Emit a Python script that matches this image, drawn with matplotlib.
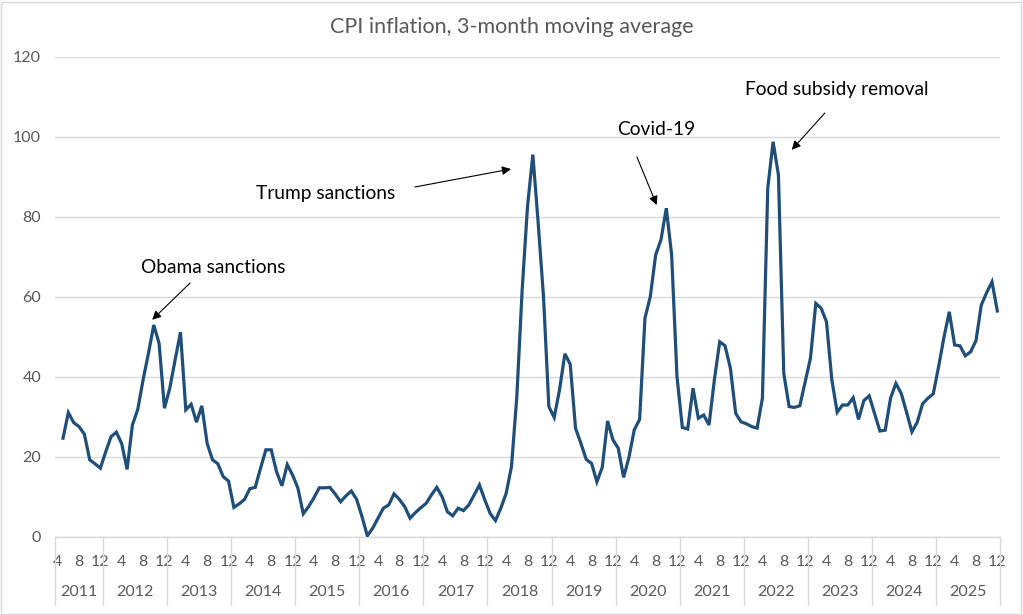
import matplotlib
matplotlib.use("Agg")
import matplotlib.pyplot as plt
from matplotlib.lines import Line2D
from matplotlib.patches import Rectangle
import matplotlib.transforms as mtransforms

plt.rcParams['font.family'] = ['Lato', 'DejaVu Sans']

# ---- data: monthly, starting April 2011 (first value missing) ----
start_year = 2011
start_month = 4
values = [
    None, 24.7, 31.1, 28.6, 27.6, 25.7, 19.3, 18.3, 17.2,            # 2011 Apr-Dec
    21.3, 25.1, 26.2, 23.3, 16.9, 28.0, 31.9, 39.3, 45.9, 53.0, 48.4, 32.2,   # 2012
    37.2, 44.3, 51.2, 31.8, 33.2, 28.7, 32.8, 23.4, 19.3, 18.3, 15.1, 14.0,   # 2013
    7.4, 8.3, 9.4, 12.1, 12.4, 17.2, 21.8, 21.8, 16.3, 12.8, 18.1, 15.5,      # 2014
    12.2, 5.8, 7.6, 9.8, 12.3, 12.3, 12.4, 10.7, 8.8, 10.3, 11.5, 9.4,        # 2015
    5.1, 0.3, 2.2, 4.7, 7.2, 8.0, 10.8, 9.4, 7.6, 4.7, 6.1, 7.3,              # 2016
    8.4, 10.5, 12.4, 10.1, 6.3, 5.3, 7.2, 6.6, 8.0, 10.5, 13.0, 9.3,          # 2017
    5.9, 4.1, 7.2, 10.9, 17.6, 35.1, 61.8, 82.6, 95.6, 78.5, 60.0, 32.6,      # 2018
    29.9, 36.8, 45.8, 43.2, 27.2, 23.4, 19.4, 18.4, 13.8, 17.4, 29.0, 24.3,   # 2019
    22.2, 14.9, 19.9, 26.8, 29.4, 54.7, 60.1, 70.5, 74.3, 82.2, 70.5, 40.1,   # 2020
    27.4, 27.0, 37.2, 29.7, 30.5, 28.0, 39.3, 48.8, 47.8, 42.2, 30.9, 28.8,   # 2021
    28.3, 27.6, 27.2, 34.7, 87.2, 98.8, 90.5, 40.9, 32.6, 32.4, 32.8, 38.8,   # 2022
    44.7, 58.4, 57.2, 53.8, 39.3, 31.2, 33.0, 33.0, 34.8, 29.4, 34.1, 35.3,   # 2023
    30.9, 26.5, 26.7, 34.7, 38.4, 35.9, 31.2, 26.3, 28.7, 33.3, 34.7, 35.8,   # 2024
    42.6, 49.9, 56.3, 48.0, 47.8, 45.3, 46.3, 49.1, 58.0, 61.1, 63.8, 56.5,   # 2025
]
years = list(range(2011, 2026))
month_labels_shown = [4, 8, 12]
y_ticks = [0, 20, 40, 60, 80, 100, 120]
title = "CPI inflation, 3-month moving average"
annotations = [
    # text, text pos (idx, value), arrow start, arrow tip
    ("Obama sanctions", (29.1, 67.3), (24.8, 63.5), (17.7, 54.3)),
    ("Trump sanctions", (50.1, 85.8), (66.9, 87.5), (84.9, 92.0)),
    ("Covid-19", (112.2, 101.8), (108.5, 95.0), (112.2, 83.0)),
    ("Food subsidy removal", (145.9, 111.8), (143.7, 106.0), (137.5, 96.8)),
]

# ---- derived month index ----
n = len(values)
months = [((start_month - 1 + i) % 12) + 1 for i in range(n)]
yrs = [start_year + (start_month - 1 + i) // 12 for i in range(n)]
xs = [i for i, v in enumerate(values) if v is not None]
ys = [v for v in values if v is not None]

W, H = 1023, 615
fig = plt.figure(figsize=(W / 100, H / 100), dpi=100)
fig.patches.append(Rectangle((1 / W, 1 / H), 1 - 3 / W, 1 - 3 / H, transform=fig.transFigure,
                             fill=False, edgecolor='#d9d9d9', lw=1))

left, right, top, bottom = 55, 1000, 57, 537
ax = fig.add_axes([left / W, 1 - bottom / H, (right - left) / W, (bottom - top) / H])

grid_c = '#d9d9d9'
text_c = '#595959'

ax.plot(xs, ys, color='#1F4E79', lw=2.3, solid_joinstyle='miter', zorder=3)

ax.set_xlim(-0.5, n - 0.5)
ax.set_ylim(0, 120)
ax.set_yticks(y_ticks)
ax.yaxis.grid(True, color=grid_c, lw=1)
ax.set_axisbelow(True)
for s in ['top', 'right', 'left']:
    ax.spines[s].set_visible(False)
ax.spines['bottom'].set_color(grid_c)
ax.spines['bottom'].set_linewidth(1)
ax.tick_params(axis='y', length=0, labelsize=11.5, labelcolor=text_c, pad=10)

tick_idx = [i for i in range(n) if months[i] in month_labels_shown]
ax.set_xticks(tick_idx)
ax.set_xticklabels([str(months[i]) for i in tick_idx])
ax.tick_params(axis='x', length=0, labelsize=11.5, labelcolor=text_c, pad=13)

trans = mtransforms.blended_transform_factory(ax.transData, ax.transAxes)
# year separators and labels
bounds = [-0.5] + [i - 0.5 for i in range(n) if months[i] == 1] + [n - 0.5]
for b in bounds:
    ax.add_line(Line2D([b, b], [0, -68 / 480], transform=trans, color=grid_c, lw=1, clip_on=False))
for y in years:
    idx = [i for i in range(n) if yrs[i] == y]
    c = (idx[0] + idx[-1]) / 2
    ax.text(c, -55 / 480, str(y), transform=trans, ha='center', va='center',
            fontsize=11.5, color=text_c)

fig.text(0.5, 1 - 27 / H, title, ha='center', va='center', fontsize=15.5, color=text_c)

for txt, tpos, a0, a1 in annotations:
    ax.text(tpos[0], tpos[1], txt, ha='center', va='center', fontsize=13.8, color='black',
            clip_on=False)
    ax.annotate('', xy=a1, xytext=a0, annotation_clip=False,
                arrowprops=dict(arrowstyle='-|>', color='black', lw=0.8, mutation_scale=13,
                                shrinkA=0, shrinkB=0))

fig.savefig('out.png', dpi=100)
